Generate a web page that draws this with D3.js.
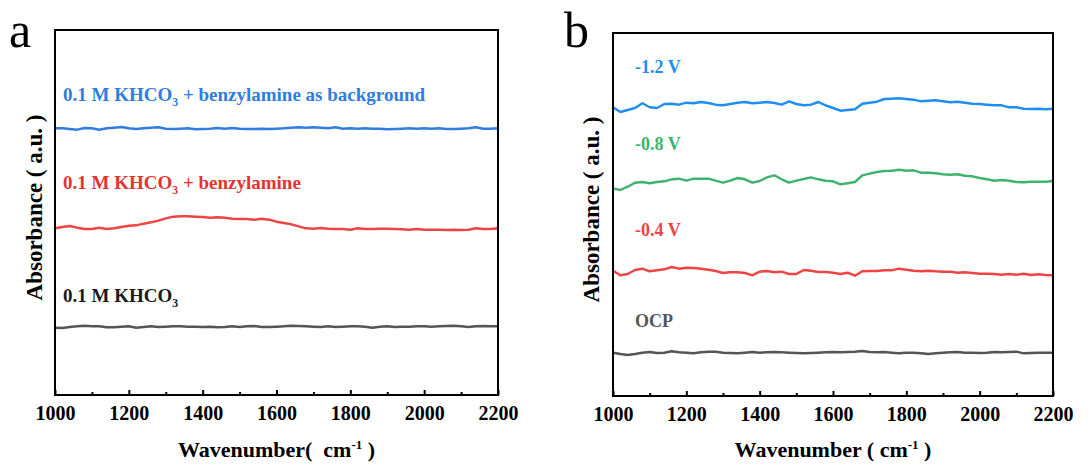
<!DOCTYPE html>
<html>
<head>
<meta charset="utf-8">
<script src="https://cdn.jsdelivr.net/npm/d3@7"></script>
<style>
  html, body { margin: 0; padding: 0; background: #fff; }
  svg text { font-family: "Liberation Serif", "Times New Roman", serif; }
</style>
</head>
<body>
<svg id="chart" width="1091" height="465"></svg>
<script>
// wavenumber grid (cm-1), one point every 20 cm-1
const wavenumbers = [1000,1020,1040,1060,1080,1100,1120,1140,1160,1180,1200,1220,1240,1260,1280,1300,1320,1340,1360,1380,
  1400,1420,1440,1460,1480,1500,1520,1540,1560,1580,1600,1620,1640,1660,1680,1700,1720,1740,1760,1780,
  1800,1820,1840,1860,1880,1900,1920,1940,1960,1980,2000,2020,2040,2060,2080,2100,2120,2140,2160,2180,2200];

const majorTicks = [1000, 1200, 1400, 1600, 1800, 2000, 2200];
const minorTicks = [1100, 1300, 1500, 1700, 1900, 2100];

// panel a (stacked spectra, a.u.)
const aBackground = [2.667,2.667,2.660,2.653,2.670,2.667,2.653,2.667,2.673,2.680,2.667,2.660,2.667,2.673,2.677,2.663,2.660,2.663,2.667,2.657,
  2.660,2.663,2.670,2.663,2.670,2.663,2.660,2.660,2.663,2.660,2.663,2.667,2.673,2.677,2.673,2.677,2.673,2.667,2.677,2.663,
  2.667,2.663,2.667,2.663,2.663,2.657,2.660,2.663,2.667,2.663,2.667,2.663,2.667,2.660,2.660,2.663,2.667,2.677,2.663,2.663,2.667];
const aBenzylamine = [1.667,1.680,1.690,1.673,1.660,1.660,1.673,1.660,1.667,1.680,1.693,1.697,1.713,1.727,1.743,1.767,1.783,1.787,1.787,1.783,
  1.780,1.773,1.777,1.773,1.763,1.760,1.760,1.753,1.763,1.753,1.733,1.720,1.707,1.687,1.667,1.663,1.670,1.663,1.660,1.660,
  1.653,1.667,1.660,1.660,1.663,1.663,1.660,1.657,1.653,1.660,1.653,1.653,1.653,1.650,1.653,1.650,1.653,1.667,1.660,1.660,1.667];
const aKHCO3 = [0.673,0.670,0.680,0.687,0.693,0.687,0.687,0.677,0.677,0.683,0.687,0.673,0.680,0.687,0.680,0.683,0.687,0.687,0.683,0.683,
  0.680,0.683,0.677,0.680,0.687,0.680,0.687,0.690,0.680,0.680,0.683,0.687,0.693,0.690,0.687,0.683,0.680,0.687,0.680,0.683,
  0.687,0.687,0.683,0.673,0.683,0.687,0.680,0.683,0.683,0.687,0.687,0.683,0.687,0.690,0.693,0.687,0.680,0.687,0.690,0.687,0.687];

// panel b (stacked spectra at different potentials, a.u.)
const bNeg12 = [2.887,2.840,2.860,2.880,2.927,2.887,2.880,2.920,2.923,2.913,2.933,2.927,2.940,2.930,2.913,2.907,2.920,2.933,2.940,2.927,
  2.933,2.940,2.930,2.913,2.947,2.920,2.907,2.913,2.940,2.907,2.880,2.853,2.860,2.867,2.923,2.933,2.943,2.970,2.973,2.977,
  2.970,2.963,2.947,2.953,2.957,2.947,2.937,2.943,2.933,2.923,2.920,2.913,2.907,2.907,2.887,2.887,2.873,2.870,2.873,2.867,2.873];
const bNeg08 = [2.077,2.060,2.093,2.133,2.140,2.127,2.140,2.147,2.167,2.173,2.153,2.173,2.173,2.173,2.153,2.133,2.153,2.180,2.167,2.133,
  2.150,2.187,2.207,2.167,2.133,2.153,2.170,2.187,2.167,2.153,2.147,2.117,2.127,2.140,2.207,2.223,2.240,2.250,2.253,2.263,
  2.253,2.257,2.233,2.233,2.227,2.217,2.213,2.217,2.203,2.197,2.180,2.167,2.153,2.160,2.153,2.140,2.137,2.143,2.143,2.143,2.150];
const bNeg04 = [1.253,1.207,1.220,1.260,1.273,1.247,1.257,1.267,1.290,1.273,1.283,1.280,1.273,1.263,1.250,1.230,1.237,1.237,1.230,1.207,
  1.243,1.250,1.237,1.243,1.220,1.220,1.260,1.253,1.240,1.240,1.233,1.220,1.233,1.203,1.247,1.250,1.250,1.257,1.257,1.273,
  1.263,1.253,1.247,1.253,1.247,1.243,1.243,1.233,1.237,1.230,1.223,1.223,1.220,1.213,1.220,1.213,1.223,1.210,1.217,1.210,1.207];
const bOCP = [0.433,0.420,0.410,0.420,0.433,0.440,0.430,0.433,0.447,0.437,0.433,0.427,0.437,0.443,0.443,0.433,0.430,0.427,0.433,0.440,
  0.433,0.437,0.440,0.437,0.433,0.430,0.427,0.430,0.433,0.437,0.440,0.437,0.440,0.443,0.450,0.440,0.437,0.440,0.433,0.427,
  0.433,0.433,0.427,0.420,0.427,0.433,0.437,0.440,0.433,0.433,0.430,0.433,0.440,0.437,0.440,0.443,0.427,0.430,0.433,0.433,0.433];

const svg = d3.select("#chart");

function drawPanel(opt) {
  const g = svg.append("g");
  const x = d3.scaleLinear().domain([1000, 2200]).range([opt.left, opt.right]);
  const y = d3.scaleLinear().domain(opt.yDomain).range([opt.bottom, opt.top]);

  const line = d3.line()
    .x((d, i) => x(wavenumbers[i]))
    .y(d => y(d));

  opt.series.forEach(s => {
    g.append("path")
      .datum(s.values)
      .attr("fill", "none")
      .attr("stroke", s.color)
      .attr("stroke-width", 2.4)
      .attr("stroke-linejoin", "round")
      .attr("d", line);

    // label with optional subscript
    const t = g.append("text")
      .attr("x", opt.left + s.labelDx)
      .attr("y", s.labelY)
      .attr("fill", s.textColor || s.color)
      .attr("font-size", opt.labelSize)
      .attr("font-weight", "bold");
    if (s.sub) {
      t.append("tspan").text(s.label[0]);
      t.append("tspan").attr("dy", 5).attr("font-size", opt.labelSize * 0.62).text(s.sub);
      if (s.label[1]) t.append("tspan").attr("dy", -5).text(s.label[1]);
    } else {
      t.text(s.label);
    }
  });

  // frame
  g.append("rect")
    .attr("x", opt.left).attr("y", opt.top)
    .attr("width", opt.right - opt.left).attr("height", opt.bottom - opt.top)
    .attr("fill", "none").attr("stroke", "#000").attr("stroke-width", 2);

  // bottom axis, ticks inward
  const ax = g.append("g")
    .attr("transform", `translate(0,${opt.bottom})`)
    .call(d3.axisBottom(x).tickValues(majorTicks).tickSizeInner(-5).tickSizeOuter(0).tickPadding(11).tickFormat(d3.format("d")));
  ax.select(".domain").remove();
  ax.selectAll(".tick line").attr("stroke", "#000").attr("stroke-width", 2);
  ax.selectAll("text")
    .attr("font-family", "Liberation Serif, serif")
    .attr("font-size", 20).attr("font-weight", "bold").attr("fill", "#000");

  const mx = g.append("g")
    .attr("transform", `translate(0,${opt.bottom})`)
    .call(d3.axisBottom(x).tickValues(minorTicks).tickSize(-3).tickFormat(""));
  mx.select(".domain").remove();
  mx.selectAll(".tick line").attr("stroke", "#000").attr("stroke-width", 2);

  // x title
  const xt = g.append("text")
    .attr("x", (opt.left + opt.right) / 2)
    .attr("y", 457)
    .attr("text-anchor", "middle")
    .attr("font-size", 22).attr("font-weight", "bold")
    .attr("xml:space", "preserve");
  xt.append("tspan").text(opt.xTitle);
  xt.append("tspan").attr("dy", -8).attr("font-size", 13).text("-1");
  xt.append("tspan").attr("dy", 8).text(" )");

  // y title
  g.append("text")
    .attr("transform", `translate(${opt.yTitleX},${(opt.top + opt.bottom) / 2 - 5}) rotate(-90)`)
    .attr("text-anchor", "middle")
    .attr("font-size", 23).attr("font-weight", "bold")
    .text("Absorbance ( a.u. )");

  // panel letter
  g.append("text")
    .attr("x", opt.letterX).attr("y", 47)
    .attr("font-size", 50)
    .text(opt.letter);
}

drawPanel({
  left: 55, right: 498, top: 30, bottom: 395,
  yDomain: [0, 3.65],
  labelSize: 19,
  yTitleX: 42,
  letter: "a", letterX: 9,
  xTitle: "Wavenumber(  cm",
  series: [
    { values: aBackground, color: "#2f7de0", label: ["0.1 M KHCO", " + benzylamine as background"], sub: "3", labelDx: 8, labelY: 101 },
    { values: aBenzylamine, color: "#ee4444", textColor: "#e53333", label: ["0.1 M KHCO", " + benzylamine"], sub: "3", labelDx: 8, labelY: 189 },
    { values: aKHCO3, color: "#555555", textColor: "#1a1a1a", label: ["0.1 M KHCO"], sub: "3", labelDx: 8, labelY: 302 }
  ]
});

drawPanel({
  left: 613, right: 1053, top: 33, bottom: 396,
  yDomain: [0, 3.63],
  labelSize: 18,
  yTitleX: 599,
  letter: "b", letterX: 564,
  xTitle: "Wavenumber ( cm",
  series: [
    { values: bNeg12, color: "#1e8ff0", label: "-1.2 V", labelDx: 22, labelY: 73 },
    { values: bNeg08, color: "#3db36e", label: "-0.8 V", labelDx: 22, labelY: 150 },
    { values: bNeg04, color: "#ee4444", label: "-0.4 V", labelDx: 22, labelY: 236 },
    { values: bOCP, color: "#555555", label: "OCP", labelDx: 22, labelY: 327 }
  ]
});
</script>
</body>
</html>
